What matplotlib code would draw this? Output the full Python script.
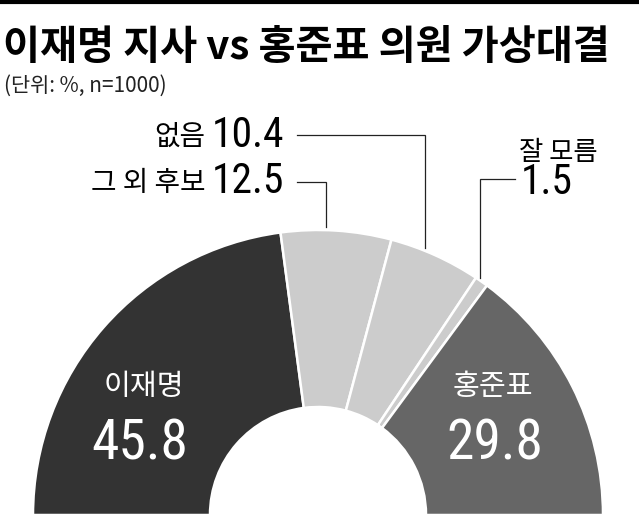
import numpy as np
import matplotlib
matplotlib.use("Agg")
import matplotlib.pyplot as plt
from matplotlib import font_manager as fm

# data
labels = ["이재명", "그 외 후보", "없음", "잘 모름", "홍준표"]
values = [45.8, 12.5, 10.4, 1.5, 29.8]
colors = ["#333333", "#cccccc", "#cccccc", "#cccccc", "#666666"]
title = "이재명 지사 vs 홍준표 의원 가상대결"
subtitle = "(단위: %, n=1000)"

W, H = 639, 517
KR = "Noto Sans CJK KR"
have = {f.name for f in fm.fontManager.ttflist}
NUM = next((n for n in ["Roboto Condensed", "Liberation Sans Narrow",
                        "Open Sans Condensed", "DejaVu Sans Condensed"] if n in have), KR)
plt.rcParams["font.family"] = [KR, "DejaVu Sans"]

fig = plt.figure(figsize=(W / 100, H / 100), dpi=100)
ax = fig.add_axes([0, 0, 1, 1])

def Y(y):
    # image pixel row -> data y
    return H - y

cx, cy = 318, Y(515)
R, r = 285, 108

ax.pie(np.array(values) / 200, normalize=False, colors=colors,
       startangle=180, counterclock=False, radius=R, center=(cx, cy),
       wedgeprops=dict(width=R - r, edgecolor="white", linewidth=1.8))
ax.set_xlim(0, W)
ax.set_ylim(0, H)
ax.set_aspect("equal")
ax.axis("off")

# top bar
ax.plot([0, W], [Y(1.5), Y(1.5)], color="black", lw=3, solid_capstyle="butt")

ax.text(3, Y(59), title, fontsize=29, fontweight="heavy", color="black",
        ha="left", va="baseline")
ax.text(4, Y(92), subtitle, fontsize=15, color="#222222", ha="left", va="baseline")

# labels inside wedges
ax.text(144, Y(395), labels[0], fontsize=21, color="white", ha="center", va="baseline")
ax.text(140, Y(460), f"{values[0]}", fontsize=40, color="white", ha="center",
        va="baseline", family=NUM)
ax.text(493, Y(395), labels[4], fontsize=21, color="white", ha="center", va="baseline")
ax.text(495, Y(460), f"{values[4]}", fontsize=40, color="white", ha="center",
        va="baseline", family=NUM)

# leader labels for small slices
def leader(x_txt, y_row, x_turn):
    dx = x_turn - cx
    y_end = cy + np.sqrt(R ** 2 - dx ** 2) + 3
    ax.plot([x_txt, x_turn, x_turn], [Y(y_row), Y(y_row), y_end],
            color="#222222", lw=0.9, solid_joinstyle="miter")

fig.canvas.draw()
rend = fig.canvas.get_renderer()

for i, y_base, y_line, x_turn in [(1, 193, 182, 326), (2, 147, 135, 425)]:
    t = ax.text(284, Y(y_base), f"{values[i]}", fontsize=30, color="black",
                ha="right", va="baseline", family=NUM)
    bb = t.get_window_extent(rend)
    ax.text(bb.x0 - 6, Y(y_base - 2), labels[i], fontsize=20, color="black",
            ha="right", va="baseline")
    leader(297, y_line, x_turn)

ax.text(519, Y(160), labels[3], fontsize=19, color="black", ha="left", va="baseline")
ax.text(521, Y(194), f"{values[3]}", fontsize=30, color="black", ha="left",
        va="baseline", family=NUM)
leader(515, 179, 480)

fig.savefig("out.png", dpi=100)
